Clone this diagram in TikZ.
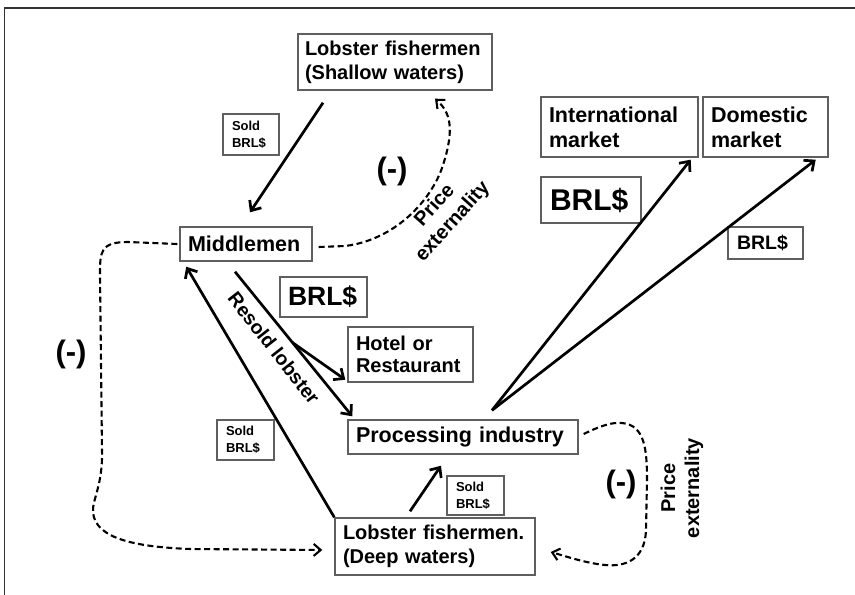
\documentclass[tikz,border=0pt]{standalone}
\usepackage{fontspec}
\setmainfont{Liberation Sans}
\usetikzlibrary{arrows.meta,calc}
\definecolor{boxgray}{RGB}{95,95,95}
\definecolor{framegray}{RGB}{50,50,50}
\newcommand\myfs[2]{\fontsize{#1}{#2}\selectfont\bfseries}
\begin{document}
\begin{tikzpicture}[x=1pt,y=-1pt,
 box/.style={draw=boxgray, line width=1.4pt, fill=white, align=left, inner xsep=7pt, inner ysep=0pt},
 arr/.style={line width=2.7pt, -{Straight Barb[length=8pt,width=14pt]}},
 darr/.style={line width=2.1pt, dash pattern=on 6pt off 3.5pt, -{Straight Barb[length=7pt,width=12pt]}},
 lbl/.style={inner sep=0pt, align=center}]
\useasboundingbox (0,0) rectangle (855,595);
\draw[framegray, line width=1.2pt] (855,8) -- (4.5,8) -- (4.5,595);

% boxes
\node[box, text width=180pt, minimum height=56pt, font=\myfs{20}{24}] (shallow) at (395,62) {Lobster fishermen\\(Shallow waters)};
\node[box, inner xsep=8pt, text width=141pt, minimum height=60pt, font=\myfs{21.5}{25}] (intl) at (619.5,127) {International\\market};
\node[box, inner xsep=8pt, text width=109pt, minimum height=60pt, font=\myfs{21.5}{25}] (dom) at (765.5,127) {Domestic\\market};
\node[box, inner xsep=8pt, text width=116pt, minimum height=34pt, font=\myfs{21.5}{25}] (mid) at (246,244) {Middlemen};
\node[box, inner xsep=8pt, text width=109pt, minimum height=55pt, font=\myfs{20}{22}] (hotel) at (410.5,354.5) {Hotel or\\Restaurant};
\node[box, inner xsep=8pt, text width=214pt, minimum height=34pt, font=\myfs{21.5}{25}] (proc) at (463,437) {Processing industry};
\node[box, inner xsep=8pt, text width=184pt, minimum height=57pt, font=\myfs{20}{24}] (deep) at (435,546.5) {Lobster fishermen.\\(Deep waters)};

% money boxes
\node[box, inner xsep=9pt, text width=38pt, minimum height=41pt, font=\myfs{13}{17}] (sold1) at (251,134.5) {Sold\\BRL\$};
\node[box, inner xsep=9pt, text width=39pt, minimum height=40pt, font=\myfs{13}{17}] (sold2) at (245.5,440) {Sold\\BRL\$};
\node[box, inner xsep=9pt, text width=39pt, minimum height=39pt, font=\myfs{13}{17}] (sold3) at (475.5,495.5) {Sold\\BRL\$};
\node[box, inner xsep=9pt, text width=82pt, minimum height=46pt, font=\myfs{30}{34}] (brlbig) at (591,200) {BRL\$};
\node[box, inner xsep=8pt, text width=71pt, minimum height=40pt, font=\myfs{26.5}{30}] (brlmid) at (323.5,297) {BRL\$};
\node[box, inner xsep=9pt, text width=57pt, minimum height=32pt, font=\myfs{19.5}{23}] (brlright) at (765.5,243) {BRL\$};

% labels
\node[lbl, font=\myfs{31}{33}] (m1) at (392,171) {(-)};
\node[lbl, font=\myfs{31}{33}] (m2) at (71,354) {(-)};
\node[lbl, font=\myfs{31}{33}] (m3) at (621,484) {(-)};
\node[lbl, rotate=48, font=\myfs{20}{24}] (pe1) at (444,214) {Price\\externality};
\node[lbl, rotate=90, font=\myfs{20}{24}] (pe2) at (682,488) {Price\\externality};
\node[lbl, rotate=-52, font=\myfs{19.5}{23}] (resold) at (274,348) {Resold lobster};

% solid arrows
\draw[arr] ([xshift=-72pt,yshift=-12pt]shallow.south) -- ([xshift=4pt,yshift=14pt]mid.north);
\draw[arr] (deep.north west) -- ([xshift=7pt,yshift=-5pt]mid.south west);
\coordinate (mstart) at ([xshift=-11pt,yshift=-10pt]mid.south);
\coordinate (pend) at ([xshift=5pt,yshift=3pt]proc.north west);
\coordinate (br) at ($(mstart)!0.49!(pend)$);
\draw[arr] (mstart) -- (pend);
\draw[arr] (br) -- ([xshift=-2pt,yshift=3pt]hotel.south west);
\coordinate (pstart) at ([xshift=29pt,yshift=9pt]proc.north);
\draw[arr] (pstart) -- ([xshift=-8pt,yshift=-2pt]intl.south east);
\draw[arr] (pstart) -- ([xshift=-13pt,yshift=-2pt]dom.south east);
\draw[arr] ([xshift=-25pt,yshift=6pt]deep.north) -- ([xshift=-22pt,yshift=-11pt]proc.south);

% dashed arrows
\draw[darr] ([xshift=6pt,yshift=-3pt]mid.east) -- (345,246) .. controls (395,240) and (432,200) .. (443,165) .. controls (455,128) and (450,112) .. ([xshift=40pt,yshift=-8pt]shallow.south);
\draw[darr] ([xshift=-2pt]mid.west) -- (128,242) .. controls (100,242) and (100,252) .. (100,275) -- (102,450) .. controls (103,485) and (92,500) .. (93,512) .. controls (95,540) and (140,547) .. (190,549) -- ([xshift=-12pt,yshift=-3.5pt]deep.west);
\draw[darr] ([xshift=5pt,yshift=3pt]proc.east) .. controls (600,426) and (612,422) .. (622,423) .. controls (645,425) and (647,450) .. (647,480) -- (646,530) .. controls (645,560) and (625,567) .. (605,565) .. controls (585,563) and (565,556) .. ([xshift=15pt,yshift=-5.5pt]deep.east);
\end{tikzpicture}
\end{document}
